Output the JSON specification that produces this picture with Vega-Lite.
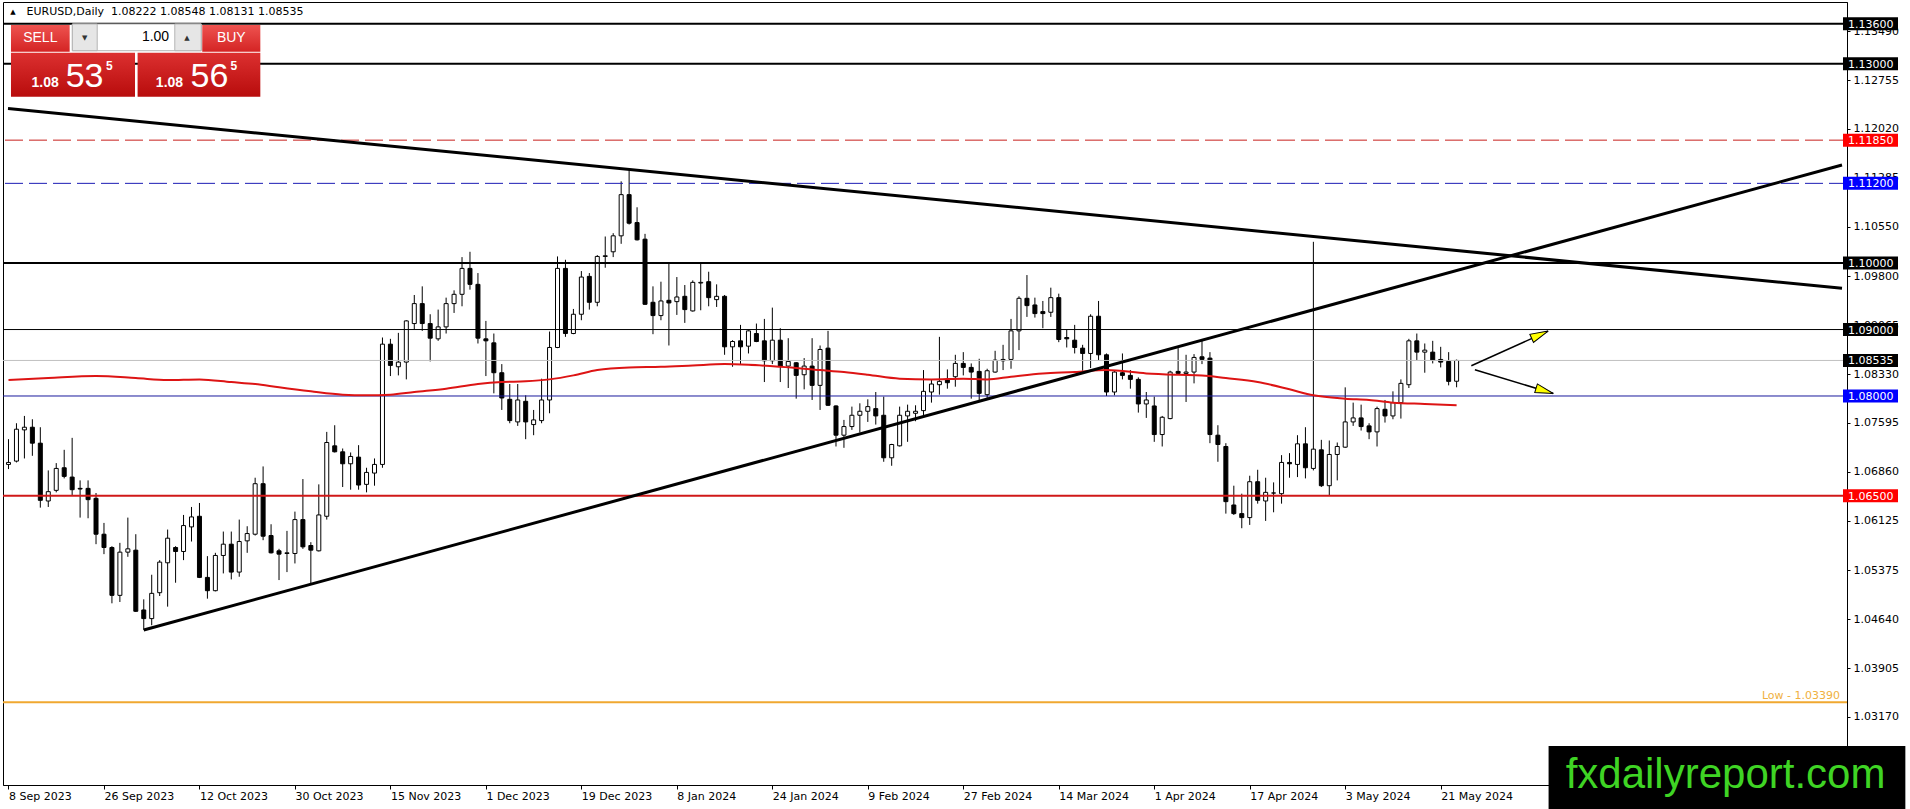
{
  "$schema": "https://vega.github.io/schema/vega-lite/v6.json",
  "width": 1844,
  "height": 783,
  "autosize": {"type": "none"},
  "padding": {"left": 3, "top": 2, "right": 63, "bottom": 24},
  "background": "#ffffff",
  "config": {
    "view": {"stroke": "#000000", "strokeWidth": 1},
    "axis": {"labelFont": "DejaVu Sans", "labelFontSize": 11, "labelColor": "#000000", "tickColor": "#000000", "domainColor": "#000000", "grid": false}
  },
  "datasets": {
    "candles": [
      {"i":0,"o":1.0697,"h":1.0735,"l":1.0690,"c":1.0700},
      {"i":1,"o":1.0702,"h":1.0759,"l":1.0700,"c":1.0750},
      {"i":2,"o":1.0749,"h":1.0770,"l":1.0706,"c":1.0753},
      {"i":3,"o":1.0753,"h":1.0765,"l":1.0710,"c":1.0729},
      {"i":4,"o":1.0729,"h":1.0753,"l":1.0632,"c":1.0643},
      {"i":5,"o":1.0642,"h":1.0688,"l":1.0633,"c":1.0656},
      {"i":6,"o":1.0658,"h":1.0699,"l":1.0655,"c":1.0691},
      {"i":7,"o":1.0692,"h":1.0719,"l":1.0676,"c":1.0679},
      {"i":8,"o":1.0678,"h":1.0737,"l":1.0651,"c":1.0659},
      {"i":9,"o":1.0661,"h":1.0673,"l":1.0617,"c":1.0660},
      {"i":10,"o":1.0661,"h":1.0673,"l":1.0616,"c":1.0644},
      {"i":11,"o":1.0646,"h":1.0654,"l":1.0577,"c":1.0592},
      {"i":12,"o":1.0592,"h":1.0609,"l":1.0562,"c":1.0572},
      {"i":13,"o":1.0572,"h":1.0574,"l":1.0488,"c":1.0500},
      {"i":14,"o":1.0500,"h":1.0579,"l":1.0490,"c":1.0565},
      {"i":15,"o":1.0565,"h":1.0617,"l":1.0558,"c":1.0570},
      {"i":16,"o":1.0568,"h":1.0592,"l":1.0475,"c":1.0476},
      {"i":17,"o":1.0478,"h":1.0494,"l":1.0448,"c":1.0465},
      {"i":18,"o":1.0465,"h":1.0531,"l":1.0455,"c":1.0503},
      {"i":19,"o":1.0504,"h":1.0553,"l":1.0499,"c":1.0550},
      {"i":20,"o":1.0549,"h":1.0599,"l":1.0483,"c":1.0586},
      {"i":21,"o":1.0572,"h":1.0574,"l":1.0519,"c":1.0566},
      {"i":22,"o":1.0566,"h":1.0621,"l":1.0553,"c":1.0605},
      {"i":23,"o":1.0603,"h":1.0633,"l":1.0581,"c":1.0618},
      {"i":24,"o":1.0619,"h":1.0639,"l":1.0526,"c":1.0527},
      {"i":25,"o":1.0527,"h":1.0559,"l":1.0495,"c":1.0507},
      {"i":26,"o":1.0507,"h":1.0564,"l":1.0506,"c":1.0560},
      {"i":27,"o":1.0560,"h":1.0596,"l":1.0533,"c":1.0577},
      {"i":28,"o":1.0577,"h":1.0596,"l":1.0524,"c":1.0535},
      {"i":29,"o":1.0535,"h":1.0614,"l":1.0528,"c":1.0581},
      {"i":30,"o":1.0582,"h":1.0604,"l":1.0564,"c":1.0593},
      {"i":31,"o":1.0592,"h":1.0677,"l":1.0590,"c":1.0668},
      {"i":32,"o":1.0668,"h":1.0694,"l":1.0583,"c":1.0589},
      {"i":33,"o":1.0590,"h":1.0607,"l":1.0563,"c":1.0564},
      {"i":34,"o":1.0567,"h":1.0570,"l":1.0523,"c":1.0562},
      {"i":35,"o":1.0563,"h":1.0597,"l":1.0535,"c":1.0564},
      {"i":36,"o":1.0563,"h":1.0626,"l":1.0548,"c":1.0614},
      {"i":37,"o":1.0614,"h":1.0675,"l":1.0570,"c":1.0573},
      {"i":38,"o":1.0575,"h":1.0580,"l":1.0518,"c":1.0568},
      {"i":39,"o":1.0567,"h":1.0667,"l":1.0566,"c":1.0621},
      {"i":40,"o":1.0619,"h":1.0746,"l":1.0614,"c":1.0730},
      {"i":41,"o":1.0725,"h":1.0756,"l":1.0715,"c":1.0716},
      {"i":42,"o":1.0716,"h":1.0721,"l":1.0663,"c":1.0698},
      {"i":43,"o":1.0698,"h":1.0715,"l":1.0659,"c":1.0709},
      {"i":44,"o":1.0708,"h":1.0726,"l":1.0659,"c":1.0666},
      {"i":45,"o":1.0667,"h":1.0692,"l":1.0655,"c":1.0685},
      {"i":46,"o":1.0684,"h":1.0706,"l":1.0665,"c":1.0697},
      {"i":47,"o":1.0697,"h":1.0888,"l":1.0692,"c":1.0878},
      {"i":48,"o":1.0878,"h":1.0886,"l":1.0830,"c":1.0846},
      {"i":49,"o":1.0844,"h":1.0895,"l":1.0831,"c":1.0851},
      {"i":50,"o":1.0851,"h":1.0914,"l":1.0825,"c":1.0913},
      {"i":51,"o":1.0909,"h":1.0952,"l":1.0900,"c":1.0939},
      {"i":52,"o":1.0939,"h":1.0965,"l":1.0898,"c":1.0909},
      {"i":53,"o":1.0909,"h":1.0923,"l":1.0852,"c":1.0887},
      {"i":54,"o":1.0886,"h":1.0930,"l":1.0883,"c":1.0904},
      {"i":55,"o":1.0904,"h":1.0948,"l":1.0894,"c":1.0939},
      {"i":56,"o":1.0939,"h":1.0959,"l":1.0925,"c":1.0953},
      {"i":57,"o":1.0953,"h":1.1009,"l":1.0935,"c":1.0992},
      {"i":58,"o":1.0992,"h":1.1017,"l":1.0960,"c":1.0968},
      {"i":59,"o":1.0968,"h":1.0985,"l":1.0879,"c":1.0887},
      {"i":60,"o":1.0886,"h":1.0913,"l":1.0830,"c":1.0883},
      {"i":61,"o":1.0880,"h":1.0894,"l":1.0804,"c":1.0835},
      {"i":62,"o":1.0835,"h":1.0848,"l":1.0779,"c":1.0797},
      {"i":63,"o":1.0795,"h":1.0818,"l":1.0759,"c":1.0763},
      {"i":64,"o":1.0761,"h":1.0818,"l":1.0755,"c":1.0794},
      {"i":65,"o":1.0792,"h":1.0801,"l":1.0735,"c":1.0761},
      {"i":66,"o":1.0757,"h":1.0779,"l":1.0741,"c":1.0764},
      {"i":67,"o":1.0763,"h":1.0826,"l":1.0759,"c":1.0794},
      {"i":68,"o":1.0794,"h":1.0897,"l":1.0774,"c":1.0873},
      {"i":69,"o":1.0873,"h":1.1010,"l":1.0872,"c":1.0992},
      {"i":70,"o":1.0992,"h":1.1005,"l":1.0889,"c":1.0894},
      {"i":71,"o":1.0894,"h":1.0931,"l":1.0893,"c":1.0923},
      {"i":72,"o":1.0923,"h":1.0988,"l":1.0914,"c":1.0979},
      {"i":73,"o":1.0980,"h":1.0985,"l":1.0930,"c":1.0941},
      {"i":74,"o":1.0941,"h":1.1012,"l":1.0935,"c":1.1010},
      {"i":75,"o":1.1010,"h":1.1040,"l":1.0993,"c":1.1011},
      {"i":76,"o":1.1017,"h":1.1045,"l":1.1009,"c":1.1041},
      {"i":77,"o":1.1041,"h":1.1123,"l":1.1029,"c":1.1103},
      {"i":78,"o":1.1103,"h":1.1140,"l":1.1058,"c":1.1060},
      {"i":79,"o":1.1061,"h":1.1084,"l":1.1034,"c":1.1035},
      {"i":80,"o":1.1036,"h":1.1044,"l":1.0937,"c":1.0938},
      {"i":81,"o":1.0941,"h":1.0965,"l":1.0893,"c":1.0921},
      {"i":82,"o":1.0921,"h":1.0972,"l":1.0914,"c":1.0943},
      {"i":83,"o":1.0944,"h":1.1000,"l":1.0876,"c":1.0940},
      {"i":84,"o":1.0942,"h":1.0979,"l":1.0922,"c":1.0949},
      {"i":85,"o":1.0950,"h":1.0967,"l":1.0910,"c":1.0930},
      {"i":86,"o":1.0928,"h":1.0974,"l":1.0927,"c":1.0971},
      {"i":87,"o":1.0970,"h":1.0999,"l":1.0929,"c":1.0971},
      {"i":88,"o":1.0972,"h":1.0987,"l":1.0935,"c":1.0948},
      {"i":89,"o":1.0945,"h":1.0968,"l":1.0934,"c":1.0950},
      {"i":90,"o":1.0950,"h":1.0952,"l":1.0862,"c":1.0874},
      {"i":91,"o":1.0874,"h":1.0884,"l":1.0844,"c":1.0882},
      {"i":92,"o":1.0883,"h":1.0907,"l":1.0847,"c":1.0874},
      {"i":93,"o":1.0875,"h":1.0899,"l":1.0864,"c":1.0898},
      {"i":94,"o":1.0894,"h":1.0909,"l":1.0881,"c":1.0882},
      {"i":95,"o":1.0883,"h":1.0916,"l":1.0821,"c":1.0853},
      {"i":96,"o":1.0853,"h":1.0933,"l":1.0848,"c":1.0884},
      {"i":97,"o":1.0884,"h":1.0902,"l":1.0821,"c":1.0845},
      {"i":98,"o":1.0845,"h":1.0887,"l":1.0812,"c":1.0852},
      {"i":99,"o":1.0850,"h":1.0851,"l":1.0796,"c":1.0831},
      {"i":100,"o":1.0832,"h":1.0857,"l":1.0810,"c":1.0845},
      {"i":101,"o":1.0845,"h":1.0887,"l":1.0794,"c":1.0816},
      {"i":102,"o":1.0816,"h":1.0876,"l":1.0779,"c":1.0870},
      {"i":103,"o":1.0872,"h":1.0898,"l":1.0785,"c":1.0786},
      {"i":104,"o":1.0785,"h":1.0786,"l":1.0724,"c":1.0741},
      {"i":105,"o":1.0741,"h":1.0764,"l":1.0722,"c":1.0754},
      {"i":106,"o":1.0754,"h":1.0784,"l":1.0749,"c":1.0771},
      {"i":107,"o":1.0771,"h":1.0789,"l":1.0745,"c":1.0777},
      {"i":108,"o":1.0777,"h":1.0795,"l":1.0761,"c":1.0784},
      {"i":109,"o":1.0781,"h":1.0806,"l":1.0757,"c":1.0770},
      {"i":110,"o":1.0771,"h":1.0799,"l":1.0701,"c":1.0707},
      {"i":111,"o":1.0707,"h":1.0728,"l":1.0695,"c":1.0727},
      {"i":112,"o":1.0725,"h":1.0784,"l":1.0724,"c":1.0771},
      {"i":113,"o":1.0770,"h":1.0787,"l":1.0731,"c":1.0777},
      {"i":114,"o":1.0774,"h":1.0786,"l":1.0762,"c":1.0777},
      {"i":115,"o":1.0778,"h":1.0839,"l":1.0771,"c":1.0807},
      {"i":116,"o":1.0806,"h":1.0825,"l":1.0790,"c":1.0818},
      {"i":117,"o":1.0817,"h":1.0889,"l":1.0802,"c":1.0822},
      {"i":118,"o":1.0824,"h":1.0840,"l":1.0811,"c":1.0820},
      {"i":119,"o":1.0829,"h":1.0862,"l":1.0814,"c":1.0849},
      {"i":120,"o":1.0849,"h":1.0866,"l":1.0831,"c":1.0843},
      {"i":121,"o":1.0843,"h":1.0849,"l":1.0796,"c":1.0836},
      {"i":122,"o":1.0837,"h":1.0856,"l":1.0794,"c":1.0804},
      {"i":123,"o":1.0802,"h":1.0841,"l":1.0795,"c":1.0838},
      {"i":124,"o":1.0836,"h":1.0868,"l":1.0835,"c":1.0854},
      {"i":125,"o":1.0855,"h":1.0877,"l":1.0839,"c":1.0853},
      {"i":126,"o":1.0855,"h":1.0916,"l":1.0841,"c":1.0898},
      {"i":127,"o":1.0898,"h":1.0950,"l":1.0869,"c":1.0947},
      {"i":128,"o":1.0947,"h":1.0982,"l":1.0919,"c":1.0936},
      {"i":129,"o":1.0937,"h":1.0948,"l":1.0918,"c":1.0924},
      {"i":130,"o":1.0927,"h":1.0943,"l":1.0902,"c":1.0924},
      {"i":131,"o":1.0926,"h":1.0963,"l":1.0919,"c":1.0948},
      {"i":132,"o":1.0948,"h":1.0954,"l":1.0881,"c":1.0885},
      {"i":133,"o":1.0888,"h":1.0900,"l":1.0873,"c":1.0886},
      {"i":134,"o":1.0884,"h":1.0907,"l":1.0864,"c":1.0873},
      {"i":135,"o":1.0872,"h":1.0877,"l":1.0838,"c":1.0864},
      {"i":136,"o":1.0864,"h":1.0923,"l":1.0842,"c":1.0920},
      {"i":137,"o":1.0920,"h":1.0943,"l":1.0854,"c":1.0862},
      {"i":138,"o":1.0862,"h":1.0864,"l":1.0800,"c":1.0806},
      {"i":139,"o":1.0806,"h":1.0838,"l":1.0801,"c":1.0836},
      {"i":140,"o":1.0835,"h":1.0864,"l":1.0825,"c":1.0831},
      {"i":141,"o":1.0831,"h":1.0839,"l":1.0811,"c":1.0825},
      {"i":142,"o":1.0825,"h":1.0828,"l":1.0775,"c":1.0788},
      {"i":143,"o":1.0788,"h":1.0806,"l":1.0767,"c":1.0794},
      {"i":144,"o":1.0785,"h":1.0799,"l":1.0731,"c":1.0742},
      {"i":145,"o":1.0742,"h":1.0770,"l":1.0724,"c":1.0768},
      {"i":146,"o":1.0766,"h":1.0838,"l":1.0765,"c":1.0836},
      {"i":147,"o":1.0837,"h":1.0872,"l":1.0832,"c":1.0834},
      {"i":148,"o":1.0834,"h":1.0862,"l":1.0791,"c":1.0836},
      {"i":149,"o":1.0836,"h":1.0863,"l":1.0819,"c":1.0858},
      {"i":150,"o":1.0859,"h":1.0883,"l":1.0848,"c":1.0855},
      {"i":151,"o":1.0857,"h":1.0866,"l":1.0729,"c":1.0742},
      {"i":152,"o":1.0741,"h":1.0756,"l":1.0701,"c":1.0727},
      {"i":153,"o":1.0724,"h":1.0729,"l":1.0623,"c":1.0641},
      {"i":154,"o":1.0636,"h":1.0665,"l":1.0621,"c":1.0623},
      {"i":155,"o":1.0623,"h":1.0653,"l":1.0601,"c":1.0617},
      {"i":156,"o":1.0617,"h":1.0680,"l":1.0606,"c":1.0671},
      {"i":157,"o":1.0671,"h":1.0689,"l":1.0638,"c":1.0643},
      {"i":158,"o":1.0642,"h":1.0677,"l":1.0612,"c":1.0655},
      {"i":159,"o":1.0654,"h":1.0670,"l":1.0625,"c":1.0654},
      {"i":160,"o":1.0653,"h":1.0711,"l":1.0638,"c":1.0700},
      {"i":161,"o":1.0700,"h":1.0714,"l":1.0677,"c":1.0698},
      {"i":162,"o":1.0697,"h":1.0741,"l":1.0678,"c":1.0728},
      {"i":163,"o":1.0728,"h":1.0753,"l":1.0676,"c":1.0692},
      {"i":164,"o":1.0691,"h":1.1032,"l":1.0688,"c":1.0720},
      {"i":165,"o":1.0719,"h":1.0734,"l":1.0663,"c":1.0665},
      {"i":166,"o":1.0665,"h":1.0733,"l":1.0651,"c":1.0712},
      {"i":167,"o":1.0712,"h":1.0730,"l":1.0673,"c":1.0724},
      {"i":168,"o":1.0723,"h":1.0813,"l":1.0722,"c":1.0761},
      {"i":169,"o":1.0761,"h":1.0790,"l":1.0755,"c":1.0767},
      {"i":170,"o":1.0767,"h":1.0787,"l":1.0748,"c":1.0754},
      {"i":171,"o":1.0755,"h":1.0759,"l":1.0735,"c":1.0746},
      {"i":172,"o":1.0746,"h":1.0784,"l":1.0724,"c":1.0781},
      {"i":173,"o":1.0780,"h":1.0794,"l":1.0760,"c":1.0770},
      {"i":174,"o":1.0770,"h":1.0807,"l":1.0765,"c":1.0790},
      {"i":175,"o":1.0790,"h":1.0825,"l":1.0766,"c":1.0819},
      {"i":176,"o":1.0817,"h":1.0886,"l":1.0812,"c":1.0883},
      {"i":177,"o":1.0883,"h":1.0894,"l":1.0854,"c":1.0866},
      {"i":178,"o":1.0866,"h":1.0879,"l":1.0835,"c":1.0869},
      {"i":179,"o":1.0866,"h":1.0883,"l":1.0849,"c":1.0854},
      {"i":180,"o":1.0855,"h":1.0874,"l":1.0843,"c":1.0851},
      {"i":181,"o":1.0852,"h":1.0866,"l":1.0816,"c":1.0822},
      {"i":182,"o":1.08222,"h":1.08548,"l":1.08131,"c":1.08535}
    ],
    "ma": [
      {"i":0,"v":1.0824},{"i":5,"v":1.0827},{"i":11,"v":1.0830},{"i":16,"v":1.0827},{"i":20,"v":1.0824},
      {"i":24,"v":1.0825},{"i":28,"v":1.0821},{"i":31,"v":1.0818},{"i":34,"v":1.0813},{"i":38,"v":1.0807},
      {"i":42,"v":1.0802},{"i":45,"v":1.0801},{"i":48,"v":1.0802},{"i":51,"v":1.0806},{"i":55,"v":1.0811},
      {"i":59,"v":1.0818},{"i":62,"v":1.0821},{"i":65,"v":1.0822},{"i":68,"v":1.0825},{"i":71,"v":1.0831},
      {"i":74,"v":1.0839},{"i":78,"v":1.0843},{"i":82,"v":1.0844},{"i":86,"v":1.0846},{"i":90,"v":1.0848},
      {"i":93,"v":1.0847},{"i":97,"v":1.0844},{"i":102,"v":1.0839},{"i":105,"v":1.0836},{"i":108,"v":1.0832},
      {"i":112,"v":1.0826},{"i":116,"v":1.0825},{"i":120,"v":1.0826},{"i":123,"v":1.0825},{"i":126,"v":1.0829},
      {"i":130,"v":1.0834},{"i":134,"v":1.0836},{"i":138,"v":1.0839},{"i":143,"v":1.0834},{"i":147,"v":1.0832},
      {"i":150,"v":1.0831},{"i":153,"v":1.0827},{"i":157,"v":1.0821},{"i":161,"v":1.0810},{"i":164,"v":1.0801},
      {"i":168,"v":1.0796},{"i":171,"v":1.0794},{"i":174,"v":1.0790},{"i":178,"v":1.0788},{"i":182,"v":1.0786}
    ],
    "trend": [
      {"t":"down","i":-0.0625,"p":1.12325},{"t":"down","i":230.4375,"p":1.09621},
      {"t":"up","i":17,"p":1.04479},{"t":"up","i":230.4375,"p":1.11476}
    ],
    "arrows": [
      {"a":"up","i":183.85,"p":1.08455},{"a":"up","i":193.5,"p":1.08977},
      {"a":"down","i":184.3,"p":1.08394},{"a":"down","i":194.15,"p":1.08038}
    ],
    "tags": [
      {"p":1.136},{"p":1.13},{"p":1.1185},{"p":1.112},{"p":1.1},{"p":1.09},{"p":1.08535},{"p":1.08},{"p":1.065}
    ],
    "one": [{}]
  },
  "layer": [
    {
      "data": {"name": "candles"},
      "mark": {"type": "rule", "stroke": "#000000", "strokeWidth": 1},
      "encoding": {
        "x": {
          "field": "i", "type": "quantitative",
          "scale": {"domain": [-0.0625, 230.4375], "nice": false, "zero": false},
          "axis": {
            "title": null,
            "values": [0, 12, 24, 36, 48, 60, 72, 84, 96, 108, 120, 132, 144, 156, 168, 180],
            "labelExpr": "['8 Sep 2023','26 Sep 2023','12 Oct 2023','30 Oct 2023','15 Nov 2023','1 Dec 2023','19 Dec 2023','8 Jan 2024','24 Jan 2024','9 Feb 2024','27 Feb 2024','14 Mar 2024','1 Apr 2024','17 Apr 2024','3 May 2024','21 May 2024'][round(datum.value / 12)]",
            "labelAlign": "left", "labelBaseline": "top", "labelPadding": 1, "tickSize": 4,
            "labelFlush": false, "labelOverlap": false
          }
        },
        "y": {
          "field": "l", "type": "quantitative",
          "scale": {"domain": [1.02146, 1.13929], "nice": false, "zero": false},
          "axis": {
            "title": null, "orient": "right",
            "values": [1.1349, 1.12755, 1.1202, 1.11285, 1.1055, 1.098, 1.09065, 1.0833, 1.07595, 1.0686, 1.06125, 1.05375, 1.0464, 1.03905, 1.0317],
            "format": ".5f", "tickSize": 3, "labelPadding": 3, "labelBaseline": "middle",
            "labelFlush": false, "labelOverlap": false
          }
        },
        "y2": {"field": "h"}
      }
    },
    {
      "data": {"name": "candles"},
      "mark": {"type": "bar", "width": 4, "stroke": "#000000", "strokeWidth": 1},
      "encoding": {
        "x": {"field": "i", "type": "quantitative"},
        "y": {"field": "o", "type": "quantitative"},
        "y2": {"field": "c"},
        "fill": {"condition": {"test": "datum.c > datum.o", "value": "#ffffff"}, "value": "#000000"}
      }
    },
    {
      "data": {"values": [{"p": 1.136}, {"p": 1.13}, {"p": 1.1}]},
      "mark": {"type": "rule", "stroke": "#000000", "strokeWidth": 2},
      "encoding": {"y": {"field": "p", "type": "quantitative"}}
    },
    {
      "data": {"values": [{"p": 1.09}]},
      "mark": {"type": "rule", "stroke": "#000000", "strokeWidth": 1},
      "encoding": {"y": {"field": "p", "type": "quantitative"}}
    },
    {
      "data": {"values": [{"p": 1.1185}]},
      "mark": {"type": "rule", "stroke": "#c8201c", "strokeWidth": 1, "strokeDash": [18, 6]},
      "encoding": {"y": {"field": "p", "type": "quantitative"}}
    },
    {
      "data": {"values": [{"p": 1.112}]},
      "mark": {"type": "rule", "stroke": "#1c1cb4", "strokeWidth": 1, "strokeDash": [18, 6]},
      "encoding": {"y": {"field": "p", "type": "quantitative"}}
    },
    {
      "data": {"values": [{"p": 1.08535}]},
      "mark": {"type": "rule", "stroke": "#c0c0c0", "strokeWidth": 1},
      "encoding": {"y": {"field": "p", "type": "quantitative"}}
    },
    {
      "data": {"values": [{"p": 1.08}]},
      "mark": {"type": "rule", "stroke": "#1a1a9c", "strokeWidth": 1},
      "encoding": {"y": {"field": "p", "type": "quantitative"}}
    },
    {
      "data": {"values": [{"p": 1.065}]},
      "mark": {"type": "rule", "stroke": "#d01818", "strokeWidth": 2},
      "encoding": {"y": {"field": "p", "type": "quantitative"}}
    },
    {
      "data": {"values": [{"p": 1.0339}]},
      "mark": {"type": "rule", "stroke": "#f0a830", "strokeWidth": 2},
      "encoding": {"y": {"field": "p", "type": "quantitative"}}
    },
    {
      "data": {"name": "ma"},
      "mark": {"type": "line", "stroke": "#dd1414", "strokeWidth": 2, "interpolate": "monotone"},
      "encoding": {
        "x": {"field": "i", "type": "quantitative"},
        "y": {"field": "v", "type": "quantitative"}
      }
    },
    {
      "data": {"name": "trend"},
      "mark": {"type": "line", "stroke": "#000000", "strokeWidth": 3},
      "encoding": {
        "x": {"field": "i", "type": "quantitative"},
        "y": {"field": "p", "type": "quantitative"},
        "detail": {"field": "t"}
      }
    },
    {
      "data": {"name": "arrows"},
      "mark": {"type": "line", "stroke": "#000000", "strokeWidth": 1.5},
      "encoding": {
        "x": {"field": "i", "type": "quantitative"},
        "y": {"field": "p", "type": "quantitative"},
        "detail": {"field": "a"}
      }
    },
    {
      "data": {"name": "arrows"},
      "transform": [{"filter": "datum.i > 190"}],
      "mark": {"type": "point", "shape": "M0,0L0.5,2L-0.5,2Z", "size": 324, "filled": true, "fill": "#ffff00", "stroke": "#000000", "strokeWidth": 1, "opacity": 1},
      "encoding": {
        "x": {"field": "i", "type": "quantitative"},
        "y": {"field": "p", "type": "quantitative"},
        "angle": {"condition": {"test": "datum.a == 'up'", "value": 66}, "value": 107}
      }
    },
    {
      "data": {"name": "one"},
      "mark": {"type": "text", "text": "Low - 1.03390", "align": "right", "baseline": "bottom", "dx": -2, "dy": -1, "font": "DejaVu Sans", "fontSize": 11, "fill": "#f0b040"},
      "encoding": {
        "x": {"datum": 230.4375, "type": "quantitative"},
        "y": {"datum": 1.0339, "type": "quantitative"}
      }
    },
    {
      "data": {"name": "tags"},
      "mark": {"type": "point", "shape": "M0.1,-0.65H5.6V0.65H0.1Z", "size": 400, "filled": true, "strokeWidth": 0, "opacity": 1},
      "encoding": {
        "x": {"datum": 230.4375, "type": "quantitative"},
        "y": {"field": "p", "type": "quantitative"},
        "fill": {
          "condition": [
            {"test": "datum.p == 1.1185 || datum.p == 1.065", "value": "#ff0000"},
            {"test": "datum.p == 1.112 || datum.p == 1.08", "value": "#0000ff"}
          ],
          "value": "#000000"
        }
      }
    },
    {
      "data": {"name": "tags"},
      "mark": {"type": "text", "align": "left", "baseline": "middle", "dx": 6, "dy": 1, "font": "DejaVu Sans", "fontSize": 11, "fill": "#ffffff"},
      "encoding": {
        "x": {"datum": 230.4375, "type": "quantitative"},
        "y": {"field": "p", "type": "quantitative"},
        "text": {"field": "p", "type": "quantitative", "format": ".5f"}
      }
    },
    {
      "data": {"name": "one"},
      "mark": {"type": "text", "text": "▲", "align": "center", "baseline": "middle", "font": "DejaVu Sans", "fontSize": 7, "fill": "#000000"},
      "encoding": {
        "x": {"datum": 0.5625, "type": "quantitative"},
        "y": {"datum": 1.13774, "type": "quantitative"}
      }
    },
    {
      "data": {"name": "one"},
      "mark": {"type": "text", "text": "EURUSD,Daily\u00a0 1.08222 1.08548 1.08131 1.08535", "align": "left", "baseline": "middle", "font": "DejaVu Sans", "fontSize": 11, "fill": "#000000"},
      "encoding": {
        "x": {"datum": 2.275, "type": "quantitative"},
        "y": {"datum": 1.13774, "type": "quantitative"}
      }
    },
    {
      "data": {"name": "one"},
      "mark": {"type": "rect", "fill": {"gradient": "linear", "x1": 0, "y1": 0, "x2": 0, "y2": 1, "stops": [{"offset": 0, "color": "#ee5350"}, {"offset": 1, "color": "#d42424"}]}},
      "encoding": {
        "x": {"datum": 0.3125, "type": "quantitative"}, "x2": {"datum": 7.6875},
        "y": {"datum": 1.13583, "type": "quantitative"}, "y2": {"datum": 1.13181}
      }
    },
    {
      "data": {"name": "one"},
      "mark": {"type": "rect", "fill": {"gradient": "linear", "x1": 0, "y1": 0, "x2": 0, "y2": 1, "stops": [{"offset": 0, "color": "#ee5350"}, {"offset": 1, "color": "#d42424"}]}},
      "encoding": {
        "x": {"datum": 24.35, "type": "quantitative"}, "x2": {"datum": 31.65},
        "y": {"datum": 1.13583, "type": "quantitative"}, "y2": {"datum": 1.13181}
      }
    },
    {
      "data": {"name": "one"},
      "mark": {"type": "rect", "fill": "#ffffff", "stroke": "#b4b4b4", "strokeWidth": 1},
      "encoding": {
        "x": {"datum": 8.025, "type": "quantitative"}, "x2": {"datum": 24.225},
        "y": {"datum": 1.13598, "type": "quantitative"}, "y2": {"datum": 1.13196}
      }
    },
    {
      "data": {"name": "one"},
      "mark": {"type": "rect", "fill": "#e6e6e6", "stroke": "#b4b4b4", "strokeWidth": 1},
      "encoding": {
        "x": {"datum": 8.025, "type": "quantitative"}, "x2": {"datum": 11.15},
        "y": {"datum": 1.13598, "type": "quantitative"}, "y2": {"datum": 1.13196}
      }
    },
    {
      "data": {"name": "one"},
      "mark": {"type": "rect", "fill": "#e6e6e6", "stroke": "#b4b4b4", "strokeWidth": 1},
      "encoding": {
        "x": {"datum": 20.9, "type": "quantitative"}, "x2": {"datum": 24.225},
        "y": {"datum": 1.13598, "type": "quantitative"}, "y2": {"datum": 1.13196}
      }
    },
    {
      "data": {"name": "one"},
      "mark": {"type": "rect", "fill": {"gradient": "linear", "x1": 0, "y1": 0, "x2": 0, "y2": 1, "stops": [{"offset": 0, "color": "#dc3030"}, {"offset": 1, "color": "#b80c0c"}]}},
      "encoding": {
        "x": {"datum": 0.3125, "type": "quantitative"}, "x2": {"datum": 15.9},
        "y": {"datum": 1.13166, "type": "quantitative"}, "y2": {"datum": 1.12504}
      }
    },
    {
      "data": {"name": "one"},
      "mark": {"type": "rect", "fill": {"gradient": "linear", "x1": 0, "y1": 0, "x2": 0, "y2": 1, "stops": [{"offset": 0, "color": "#dc3030"}, {"offset": 1, "color": "#b80c0c"}]}},
      "encoding": {
        "x": {"datum": 16.225, "type": "quantitative"}, "x2": {"datum": 31.65},
        "y": {"datum": 1.13166, "type": "quantitative"}, "y2": {"datum": 1.12504}
      }
    },
    {
      "data": {"name": "one"},
      "mark": {"type": "text", "text": "SELL", "align": "center", "baseline": "middle", "font": "Liberation Sans", "fontSize": 14, "fill": "#ffffff"},
      "encoding": {
        "x": {"datum": 4.0, "type": "quantitative"},
        "y": {"datum": 1.1338, "type": "quantitative"}
      }
    },
    {
      "data": {"name": "one"},
      "mark": {"type": "text", "text": "BUY", "align": "center", "baseline": "middle", "font": "Liberation Sans", "fontSize": 14, "fill": "#ffffff"},
      "encoding": {
        "x": {"datum": 28.0, "type": "quantitative"},
        "y": {"datum": 1.1338, "type": "quantitative"}
      }
    },
    {
      "data": {"name": "one"},
      "mark": {"type": "text", "text": "▼", "align": "center", "baseline": "middle", "font": "DejaVu Sans", "fontSize": 7, "fill": "#333333"},
      "encoding": {
        "x": {"datum": 9.56, "type": "quantitative"},
        "y": {"datum": 1.13387, "type": "quantitative"}
      }
    },
    {
      "data": {"name": "one"},
      "mark": {"type": "text", "text": "▲", "align": "center", "baseline": "middle", "font": "DejaVu Sans", "fontSize": 7, "fill": "#333333"},
      "encoding": {
        "x": {"datum": 22.44, "type": "quantitative"},
        "y": {"datum": 1.13387, "type": "quantitative"}
      }
    },
    {
      "data": {"name": "one"},
      "mark": {"type": "text", "text": "1.00", "align": "right", "baseline": "middle", "font": "Liberation Sans", "fontSize": 14, "fill": "#000000"},
      "encoding": {
        "x": {"datum": 20.19, "type": "quantitative"},
        "y": {"datum": 1.13395, "type": "quantitative"}
      }
    },
    {
      "data": {"name": "one"},
      "mark": {"type": "text", "text": "1.08", "align": "left", "baseline": "alphabetic", "font": "Liberation Sans", "fontSize": 14, "fontWeight": "bold", "fill": "#ffffff"},
      "encoding": {
        "x": {"datum": 2.9, "type": "quantitative"},
        "y": {"datum": 1.12643, "type": "quantitative"}
      }
    },
    {
      "data": {"name": "one"},
      "mark": {"type": "text", "text": "53", "align": "center", "baseline": "alphabetic", "font": "Liberation Sans", "fontSize": 34, "fill": "#ffffff"},
      "encoding": {
        "x": {"datum": 9.56, "type": "quantitative"},
        "y": {"datum": 1.12643, "type": "quantitative"}
      }
    },
    {
      "data": {"name": "one"},
      "mark": {"type": "text", "text": "5", "align": "center", "baseline": "alphabetic", "font": "Liberation Sans", "fontSize": 12, "fontWeight": "bold", "fill": "#ffffff"},
      "encoding": {
        "x": {"datum": 12.69, "type": "quantitative"},
        "y": {"datum": 1.12906, "type": "quantitative"}
      }
    },
    {
      "data": {"name": "one"},
      "mark": {"type": "text", "text": "1.08", "align": "left", "baseline": "alphabetic", "font": "Liberation Sans", "fontSize": 14, "fontWeight": "bold", "fill": "#ffffff"},
      "encoding": {
        "x": {"datum": 18.52, "type": "quantitative"},
        "y": {"datum": 1.12643, "type": "quantitative"}
      }
    },
    {
      "data": {"name": "one"},
      "mark": {"type": "text", "text": "56", "align": "center", "baseline": "alphabetic", "font": "Liberation Sans", "fontSize": 34, "fill": "#ffffff"},
      "encoding": {
        "x": {"datum": 25.25, "type": "quantitative"},
        "y": {"datum": 1.12643, "type": "quantitative"}
      }
    },
    {
      "data": {"name": "one"},
      "mark": {"type": "text", "text": "5", "align": "center", "baseline": "alphabetic", "font": "Liberation Sans", "fontSize": 12, "fontWeight": "bold", "fill": "#ffffff"},
      "encoding": {
        "x": {"datum": 28.31, "type": "quantitative"},
        "y": {"datum": 1.12906, "type": "quantitative"}
      }
    },
    {
      "data": {"name": "one"},
      "mark": {"type": "rect", "fill": "#000000"},
      "encoding": {
        "x": {"datum": 193.56, "type": "quantitative"}, "x2": {"datum": 238.4},
        "y": {"datum": 1.02733, "type": "quantitative"}, "y2": {"datum": 1.0177}
      }
    },
    {
      "data": {"name": "one"},
      "mark": {"type": "text", "text": "fxdailyreport.com", "align": "center", "baseline": "alphabetic", "font": "Liberation Sans", "fontSize": 42, "fill": "#3fd424"},
      "encoding": {
        "x": {"datum": 215.8, "type": "quantitative"},
        "y": {"datum": 1.02101, "type": "quantitative"}
      }
    }
  ]
}
